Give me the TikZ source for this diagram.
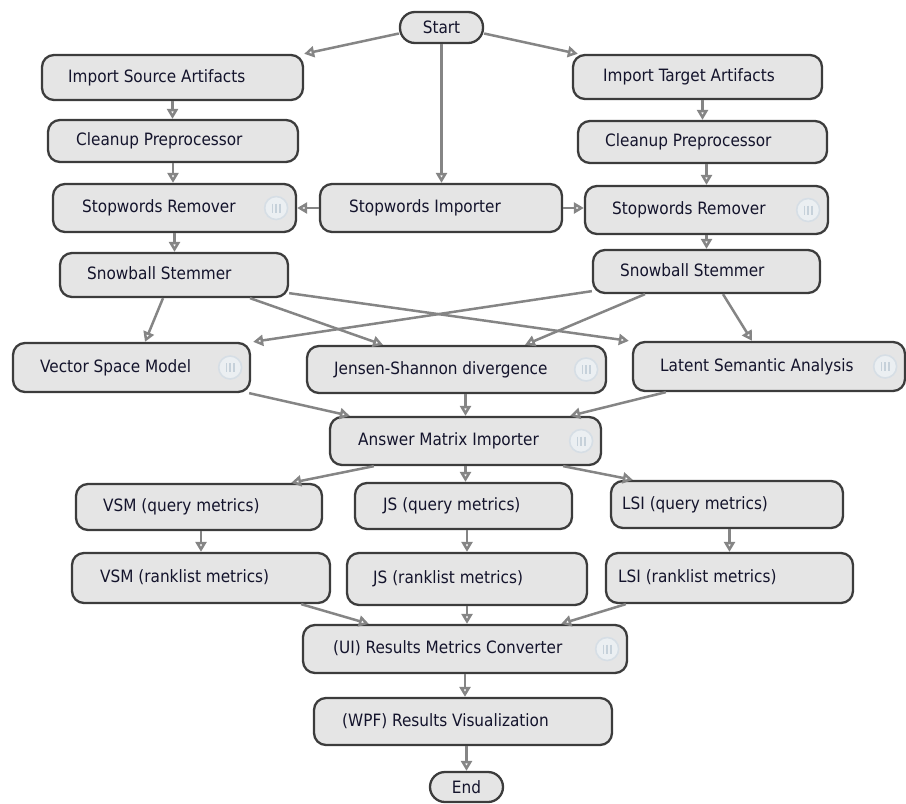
\documentclass[tikz,border=0pt]{standalone}
\usepackage{fontspec}
\setmainfont{DejaVu Sans Condensed}
\usetikzlibrary{arrows.meta}
\definecolor{boxfill}{HTML}{E5E5E5}
\definecolor{boxline}{HTML}{3C3C3C}
\definecolor{edgegray}{HTML}{858585}
\definecolor{txt}{HTML}{14142C}
\definecolor{iconring}{HTML}{D6DEE5}
\definecolor{iconfill}{HTML}{EBEFF2}
\definecolor{iconbar}{HTML}{C6D1DA}

% box: name, left, right, top, bottom, text x, text
\newcommand{\wfbox}[7]{%
  \node[wfnode, minimum width={#3-#2}, minimum height={#5-#4}] (#1) at ({(#2+#3)/2},{(#4+#5)/2}) {};
  \node[wftext] (#1-t) at (#6,{(#4+#5)/2}) {#7};}
% small "parallel" badge at the right end of a box
\newcommand{\wfbadge}[1]{%
  \node[wficon] (#1-i) at ([xshift=-21pt]#1.east) {};
  \foreach \d in {-3.6,0,3.6}
    \draw[iconbar, line width=1.6pt] ([xshift=\d pt,yshift=4.5pt]#1-i.center) -- ([xshift=\d pt,yshift=-4.5pt]#1-i.center);}

\begin{document}
\begin{tikzpicture}[x=1pt,y=-1pt,
  wfnode/.style={draw=boxline, fill=boxfill, line width=2.3pt, rounded corners=12pt, inner sep=0pt},
  wfterm/.style={wfnode, rounded corners=15pt, font=\fontsize{17}{20}\selectfont, text=txt},
  wftext/.style={anchor=west, inner sep=0pt, text height=12.5pt, text depth=3.5pt, font=\fontsize{17}{20}\selectfont, text=txt},
  wficon/.style={circle, draw=iconring, fill=iconfill, line width=1.6pt, minimum size=23pt, inner sep=0pt},
  flow/.style={draw=edgegray, line width=2.5pt, -{Triangle[open, length=10pt, width=11pt]}}]
\useasboundingbox (0,0) rectangle (906,804);

% terminals
\node[wfterm, minimum width=83pt, minimum height=31pt] (start) at (441.5,27.5) {Start};
\node[wfterm, minimum width=73pt, minimum height=30pt] (end) at (466.5,787) {End};

% components
\wfbox{src}{42}{303}{55}{100}{68}{Import Source Artifacts}
\wfbox{tgt}{573}{822}{55}{99}{603}{Import Target Artifacts}
\wfbox{clL}{48}{298}{120}{162}{76}{Cleanup Preprocessor}
\wfbox{clR}{578}{827}{121}{163}{605}{Cleanup Preprocessor}
\wfbox{swL}{53}{296}{184}{232}{82}{Stopwords Remover}
\wfbox{swI}{320}{562}{184}{232}{349}{Stopwords Importer}
\wfbox{swR}{585}{828}{186}{234}{612}{Stopwords Remover}
\wfbox{sbL}{60}{288}{253}{297}{87}{Snowball Stemmer}
\wfbox{sbR}{593}{820}{250}{293}{620}{Snowball Stemmer}
\wfbox{vsm}{13}{250}{343}{392}{40}{Vector Space Model}
\wfbox{js}{307}{606}{346}{393}{334}{Jensen-Shannon divergence}
\wfbox{lsa}{633}{905}{342}{391}{660}{Latent Semantic Analysis}
\wfbox{ami}{330}{601}{417}{465}{358}{Answer Matrix Importer}
\wfbox{vq}{76}{322}{484}{530}{103}{VSM (query metrics)}
\wfbox{jq}{355}{572}{483}{529}{383}{JS (query metrics)}
\wfbox{lq}{611}{843}{481}{528}{622}{LSI (query metrics)}
\wfbox{vr}{72}{330}{553}{603}{100}{VSM (ranklist metrics)}
\wfbox{jr}{347}{587}{553}{605}{373}{JS (ranklist metrics)}
\wfbox{lr}{606}{853}{553}{603}{618}{LSI (ranklist metrics)}
\wfbox{ui}{303}{627}{625}{673}{333}{(UI) Results Metrics Converter}
\wfbox{wpf}{314}{612}{698}{745}{342}{(WPF) Results Visualization}

\wfbadge{swL}
\wfbadge{swR}
\wfbadge{vsm}
\wfbadge{js}
\wfbadge{lsa}
\wfbadge{ami}
\wfbadge{ui}

% connectors
\draw[flow] ([yshift=-6pt]start.west) -- (src.north east);
\draw[flow] ([yshift=-6pt]start.east) -- ([xshift=6pt]tgt.north west);
\draw[flow] (start.south) -- (start.south |- swI.north);

\draw[flow] (src.south) -- (src.south |- clL.north);
\draw[flow] (clL.south) -- (clL.south |- swL.north);
\draw[flow] (swL.south) -- (swL.south |- sbL.north);
\draw[flow] (clR.north |- tgt.south) -- (clR.north);
\draw[flow] (swR.north |- clR.south) -- (swR.north);
\draw[flow] (swR.south) -- (swR.south |- sbR.north);

\draw[flow] (swI.west) -- (swI.west -| swL.east);
\draw[flow] (swI.east) -- (swI.east -| swR.west);

\draw[flow] ([xshift=-11pt]sbL.south) -- ([xshift=13.5pt]vsm.north);
\draw[flow] ([xshift=76pt]sbL.south) -- ([xshift=-73.5pt]js.north);
\draw[flow] ([yshift=5pt]sbL.south east) -- ([xshift=-3pt]lsa.north west);
\draw[flow] ([yshift=3pt]sbR.south west) -- ([xshift=2pt]vsm.north east);
\draw[flow] ([xshift=-61.5pt]sbR.south) -- ([xshift=68.5pt]js.north);
\draw[flow] ([xshift=16.5pt]sbR.south) -- ([xshift=-17pt]lsa.north);

\draw[flow] ([xshift=-2pt]vsm.south east) -- ([xshift=21pt]ami.north west);
\draw[flow] (ami.north |- js.south) -- (ami.north);
\draw[flow] ([xshift=34pt]lsa.south west) -- ([xshift=-32pt]ami.north east);

\draw[flow] ([xshift=45pt]ami.south west) -- ([xshift=-32pt]vq.north east);
\draw[flow] (ami.south) -- (ami.south |- jq.north);
\draw[flow] ([xshift=-39pt]ami.south east) -- ([xshift=23pt]lq.north west);

\draw[flow] (vr.north |- vq.south) -- (vr.north);
\draw[flow] (jr.north |- jq.south) -- (jr.north);
\draw[flow] (lr.north |- lq.south) -- (lr.north);

\draw[flow] ([xshift=-30pt]vr.south east) -- ([xshift=67pt]ui.north west);
\draw[flow] (jr.south) -- (jr.south |- ui.north);
\draw[flow] ([xshift=21pt]lr.south west) -- ([xshift=-67pt]ui.north east);

\draw[flow] (ui.south) -- (ui.south |- wpf.north);
\draw[flow] (end.north |- wpf.south) -- (end.north);
\end{tikzpicture}
\end{document}
